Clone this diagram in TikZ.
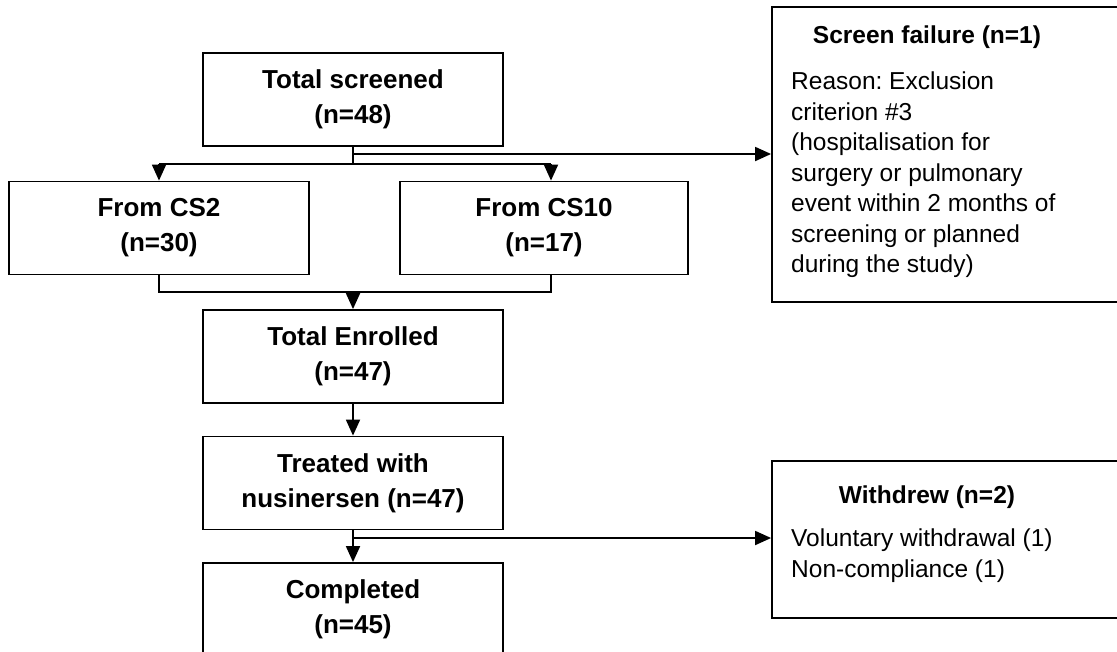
\documentclass[tikz,border=0pt]{standalone}
\usepackage{fontspec}
\setmainfont{Liberation Sans}
\usetikzlibrary{arrows.meta}
\frenchspacing
\begin{document}
\begin{tikzpicture}[x=1pt,y=-1pt,
  mainbox/.style={draw=black,line width=1.8pt,minimum width=300pt,minimum height=93pt,inner sep=0pt,align=center,
    font=\fontsize{26}{35}\selectfont\bfseries},
  sidebox/.style={draw=black,line width=1.8pt,inner sep=0pt},
  sidetitle/.style={inner sep=0pt,font=\fontsize{24.5}{30.5}\selectfont\bfseries},
  sidebody/.style={inner sep=0pt,align=left,font=\fontsize{24.5}{30.5}\selectfont},
  line/.style={line width=1.8pt},
  arr/.style={line width=1.8pt,-{Triangle[length=16pt,width=14pt]}}
]
\useasboundingbox (0,0) rectangle (1117,651);
\clip (0,0) rectangle (1117,651);
% main boxes
\node[mainbox] (scr) at (353,99.5) {Total screened\\(n=48)};
\node[mainbox] (cs2) at (159,228) {From CS2\\(n=30)};
\node[mainbox,minimum width=288pt] (cs10) at (544,228) {From CS10\\(n=17)};
\node[mainbox] (enr) at (353,356.5) {Total Enrolled\\(n=47)};
\node[mainbox] (trt) at (353,483) {Treated with\\nusinersen (n=47)};
\node[mainbox] (cmp) at (353,609.5) {Completed\\(n=45)};
% side boxes
\node[sidebox,minimum width=360pt,minimum height=295pt] (sf) at (952,154.5) {};
\node[sidetitle,anchor=base] (sft) at (927,43) {Screen failure (n=1)};
\node[sidebody,anchor=north west] (sfb) at (791,72) {Reason: Exclusion\\criterion \#3\\(hospitalisation for\\surgery or pulmonary\\event within 2 months of\\screening or planned\\during the study)};
\node[sidebox,minimum width=360pt,minimum height=157pt] (wd) at (952,539.5) {};
\node[sidetitle,anchor=base] (wdt) at (927,503) {Withdrew (n=2)};
\node[sidebody,anchor=north west] (wdb) at (791,529) {Voluntary withdrawal (1)\\Non-compliance (1)};
% coordinates
\coordinate (j1) at (353,164);
\coordinate (j2) at (353,154);
\coordinate (l1) at (159,164);
\coordinate (r1) at (551,164);
\coordinate (l2) at (159,292);
\coordinate (r2) at (551,292);
\coordinate (m2) at (353,292);
\coordinate (j3) at (353,538);
% connectors
\draw[line] (scr.south) -- (j1);
\draw[line] (l1) -- (r1);
\draw[arr] (l1) -- (cs2.north);
\draw[arr] (r1) -- (r1 |- cs10.north);
\draw[arr] (j2) -- (j2 -| sf.west);
\draw[line] (cs2.south) -- (l2) -- (r2) -- (r2 |- cs10.south);
\draw[arr] (m2) -- (enr.north);
\draw[arr] (enr.south) -- (trt.north);
\draw[arr] (trt.south) -- (cmp.north);
\draw[arr] (j3) -- (j3 -| wd.west);
\end{tikzpicture}
\end{document}
